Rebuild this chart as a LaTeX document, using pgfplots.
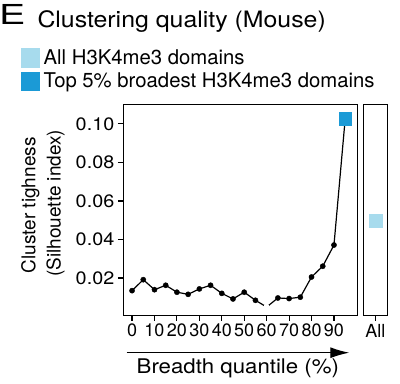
\documentclass[border=0pt]{standalone}
\usepackage{graphicx}
\usepackage{fontspec}
\setmainfont{TeX Gyre Heros}[FakeStretch=1.1]
\newfontfamily\plainfont{TeX Gyre Heros}
\usepackage{pgfplots}
\pgfplotsset{compat=1.18}
\usetikzlibrary{arrows.meta}
\definecolor{lightblue}{HTML}{A7DBED}
\definecolor{topblue}{HTML}{1B9AD6}
\pgfplotsset{
  panel/.style={
    scale only axis, anchor=south west, height=210.6bp,
    ymin=0.0006, ymax=0.110,
    tick pos=left, tick align=outside,
    major tick length=5.5bp,
    axis line style={line width=1.3bp},
    every tick/.style={black, line width=1.1bp},
    scaled y ticks=false,
    /pgf/number format/assume math mode=true,
    yticklabel style={font=\fontsize{18bp}{20bp}\selectfont},
    xticklabel style={inner ysep=3bp, font=\plainfont\fontsize{18bp}{20bp}\selectfont},
  }
}
\begin{document}
\begin{tikzpicture}
\useasboundingbox (0bp,0bp) rectangle (400bp,384bp);
% main panel
\begin{axis}[panel,
  at={(123.3bp,68.7bp)}, width=234bp,
  xmin=-3.9, xmax=100.4,
  xtick={0,10,...,90},
  ytick={0.02,0.04,0.06,0.08,0.10},
  yticklabel style={/pgf/number format/fixed, /pgf/number format/fixed zerofill, /pgf/number format/precision=2},
  legend style={at={(-0.4385,1.2678)}, anchor=north west, draw=none, fill=none,
    inner sep=0pt, outer sep=0pt, row sep=4.7bp, column sep=3.3bp,
    nodes={inner sep=1bp, font=\plainfont\fontsize{20.3bp}{23bp}\selectfont}},
  legend cell align=left,
]
\addlegendimage{legend image code/.code={\fill[lightblue] (0bp,-9.15bp) rectangle (18.3bp,9.15bp);}}
\addlegendentry{All H3K4me3 domains}
\addlegendimage{legend image code/.code={\fill[topblue] (0bp,-9.15bp) rectangle (18.3bp,9.15bp);}}
\addlegendentry{Top 5\% broadest H3K4me3 domains}
\addplot[black, line width=1.2bp, forget plot] coordinates {
(0,0.0134) (5,0.0191) (10,0.0139) (15,0.0162) (20,0.0126) (25,0.0115)
(30,0.0143) (35,0.0162) (40,0.0120) (45,0.0091) (50,0.0126) (55,0.0084)
(60,0.0049) (65,0.0096) (70,0.0093) (75,0.0100) (80,0.0205) (85,0.0261)
(90,0.0371) (95,0.1026)};
\addplot[white, only marks, mark=*, mark size=2.7bp, mark options={draw=white, fill=white, line width=0pt}, forget plot] coordinates {(60,0.0049)};
\addplot[only marks, mark=*, mark size=2.6bp, black, forget plot] coordinates {
(0,0.0134) (5,0.0191) (10,0.0139) (15,0.0162) (20,0.0126) (25,0.0115)
(30,0.0143) (35,0.0162) (40,0.0120) (45,0.0091) (50,0.0126) (55,0.0084)
(65,0.0096) (70,0.0093) (75,0.0100) (80,0.0205) (85,0.0261) (90,0.0371)};
\addplot[topblue, only marks, mark=square*, mark size=6.4bp, mark options={draw=topblue, fill=topblue, line width=0.3bp}, forget plot] coordinates {(95,0.1026)};
\end{axis}
% right panel
\begin{axis}[panel,
  at={(363.3bp,68.7bp)}, width=24bp,
  xmin=0, xmax=2,
  xtick={1}, xticklabels={All},
  ytick=\empty,
]
\addplot[lightblue, only marks, mark=square*, mark size=6.4bp, mark options={draw=lightblue, fill=lightblue, line width=0.3bp}] coordinates {(1,0.0496)};
\end{axis}
% titles and labels
\node[anchor=base west, inner sep=0pt] at (-1bp,359.7bp) {\fontsize{27.5bp}{30bp}\selectfont\scalebox{1.3}[1]{E}};
\node[anchor=base west, inner sep=0pt] at (37.3bp,356bp) {\fontsize{22.6bp}{26bp}\selectfont Clustering quality (Mouse)};
\node[rotate=90, anchor=base, inner sep=0pt] at (35.3bp,178.7bp) {\plainfont\fontsize{19bp}{23bp}\selectfont Cluster tighness};
\node[rotate=90, anchor=base, inner sep=0pt] at (60.6bp,180.7bp) {\plainfont\fontsize{19bp}{23bp}\selectfont (Silhouette index)};
\draw[line width=1.3bp, -{Latex[length=19bp,width=11bp]}] (126.7bp,31.3bp) -- (349.3bp,31.3bp);
\node[anchor=base west, inner sep=0pt] at (136.5bp,10.7bp) {\fontsize{20.2bp}{23bp}\selectfont Breadth quantile (\%)};
\end{tikzpicture}
\end{document}
